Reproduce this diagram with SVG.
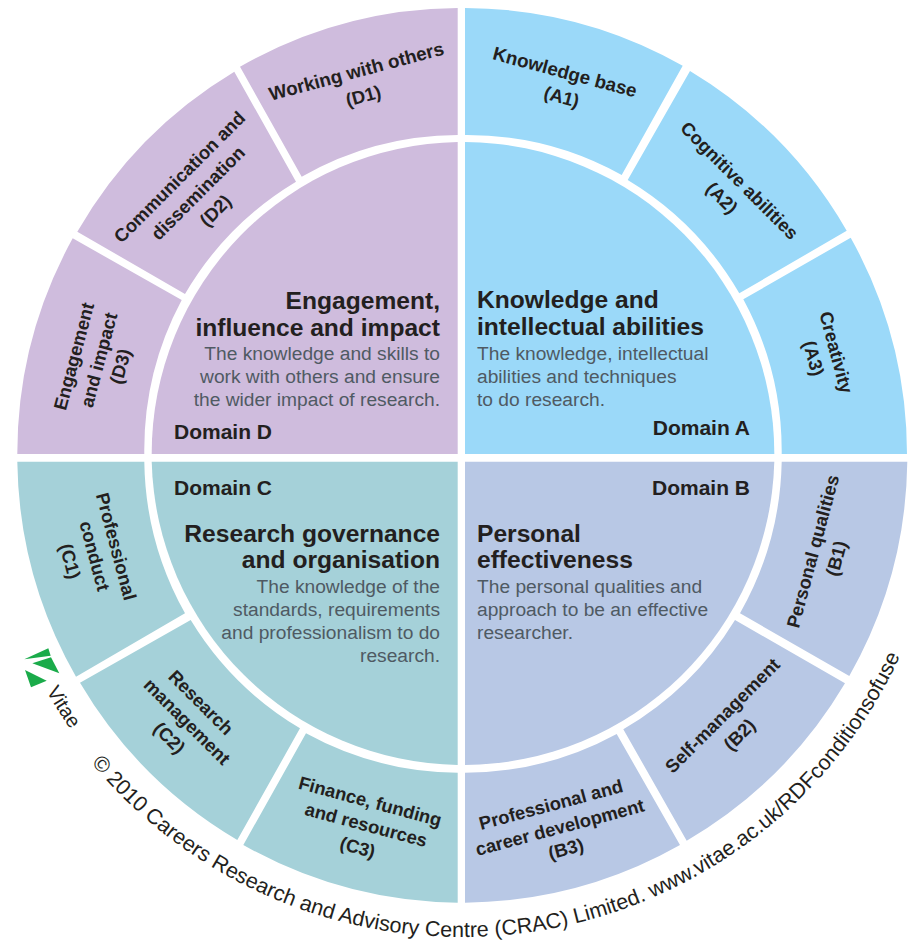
<svg xmlns="http://www.w3.org/2000/svg" width="912" height="943" viewBox="0 0 912 943">
<style>
text{font-family:"Liberation Sans",Arial,sans-serif}
.l{font-size:18.4px;font-weight:700;fill:#231f20;text-anchor:middle}
.x{font-size:18.8px}
.t{font-size:24.6px;font-weight:700;fill:#231f20}
.d{font-size:19.2px;fill:#4f5a63}
.m{font-size:21px;font-weight:700;fill:#231f20}
.e{text-anchor:end}
.ca{fill:#9bd9f9}.cb{fill:#b8c8e5}.cc{fill:#a5d1d9}.cd{fill:#cfbcdd}
.c{font-size:21.5px;fill:#231f20}
.g{fill:#1aab4a}
</style>
<defs>
<path id="arc" d="M91.2 762.9A482 482 0 0 0 914.9 619.9"/>
<path id="arc2" d="M46.4 691.1A478 478 0 0 0 124 793"/>
</defs>
<rect width="912" height="943" fill="#fff"/>

<g id="domain-a">
<path class="ca" d="M465 142A311.5 311.5 0 0 1 774.3 454H465Z"/>
<text class="t" x="477" y="308">Knowledge and</text>
<text class="t" x="477" y="335">intellectual abilities</text>
<text class="d" x="477" y="359.5">The knowledge, intellectual</text>
<text class="d" x="477" y="382.5">abilities and techniques</text>
<text class="d" x="477" y="405.5">to do research.</text>
<text class="m e" x="750" y="435">Domain A</text>
</g>
<g id="a1">
<path class="ca" d="M465 8A446 446 0 0 1 682.7 65.7L621.7 175A319 319 0 0 0 465 135Z"/>
<text class="l x" transform="translate(563.3 78.3) rotate(15)">Knowledge base</text>
<text class="l" transform="translate(560 103) rotate(15)">(A1)</text>
</g>
<g id="a2">
<path class="ca" d="M690 71A446 446 0 0 1 846.7 230.7L739.3 293.3A319 319 0 0 0 627.7 180Z"/>
<text class="l" transform="translate(735 185) rotate(45)">Cognitive abilities</text>
<text class="l" transform="translate(717.5 202.5) rotate(45)">(A2)</text>
</g>
<g id="a3">
<path class="ca" d="M850.7 237.7A446 446 0 0 1 907 454H781.7A319 319 0 0 0 743.3 299.3Z"/>
<text class="l" transform="translate(830 354) rotate(75)">Creativity</text>
<text class="l" transform="translate(807.5 360) rotate(75)">(A3)</text>
</g>

<g id="domain-b">
<path class="cb" d="M465 461.7H774.3A311.5 311.5 0 0 1 465 765Z"/>
<text class="t" x="477" y="541.7">Personal</text>
<text class="t" x="477" y="568.3">effectiveness</text>
<text class="d" x="477" y="592.7">The personal qualities and</text>
<text class="d" x="477" y="616">approach to be an effective</text>
<text class="d" x="477" y="639">researcher.</text>
<text class="m e" x="750" y="495">Domain B</text>
</g>
<g id="b1">
<path class="cb" d="M781.7 461.7H907.3A446 446 0 0 1 849.3 676L740 613.3A319 319 0 0 0 781.7 461.7Z"/>
<text class="l" transform="translate(819 553) rotate(-75)">Personal qualities</text>
<text class="l" transform="translate(842.5 560) rotate(-75)">(B1)</text>
</g>
<g id="b2">
<path class="cb" d="M735 620L845 683.3A446 446 0 0 1 686.7 840.7L623.3 729.3A319 319 0 0 0 735 620Z"/>
<text class="l" transform="translate(727 720) rotate(-45)">Self-management</text>
<text class="l" transform="translate(744 739) rotate(-45)">(B2)</text>
</g>
<g id="b3">
<path class="cb" d="M616.7 734L680 845A446 446 0 0 1 465 902.7V772.7A319 319 0 0 0 616.7 734Z"/>
<text class="l" transform="translate(552.6 810.8) rotate(-15)">Professional and</text>
<text class="l" transform="translate(561.5 833.5) rotate(-15)">career development</text>
<text class="l" transform="translate(567.6 855) rotate(-15)">(B3)</text>
</g>

<g id="domain-c">
<path class="cc" d="M457.7 461.7H151.7A311.5 311.5 0 0 0 457.7 765Z"/>
<text class="t e" x="440" y="541.7">Research governance</text>
<text class="t e" x="440" y="568.3">and organisation</text>
<text class="d e" x="440" y="592.7">The knowledge of the</text>
<text class="d e" x="440" y="616">standards, requirements</text>
<text class="d e" x="440" y="639">and professionalism to do</text>
<text class="d e" x="440" y="662">research.</text>
<text class="m" x="174" y="495">Domain C</text>
</g>
<g id="c1">
<path class="cc" d="M144.3 461.7H17.3A446 446 0 0 0 76 676.7L185 613.3A319 319 0 0 1 144.3 461.7Z"/>
<text class="l" transform="translate(110 548) rotate(75)">Professional</text>
<text class="l" transform="translate(88.5 557.5) rotate(75)">conduct</text>
<text class="l" transform="translate(64 563) rotate(75)">(C1)</text>
</g>
<g id="c2">
<path class="cc" d="M190.7 620L80 682.7A446 446 0 0 0 237.3 840L300 728.3A319 319 0 0 1 190.7 620Z"/>
<text class="l" transform="translate(196.5 707) rotate(45)">Research</text>
<text class="l" transform="translate(182.5 726) rotate(45)">management</text>
<text class="l" transform="translate(165 742.5) rotate(45)">(C2)</text>
</g>
<g id="c3">
<path class="cc" d="M306 733.3L243.3 845A446 446 0 0 0 457.7 902.7V772.7A319 319 0 0 1 306 733.3Z"/>
<text class="l" transform="translate(368.5 807.5) rotate(15)">Finance, funding</text>
<text class="l" transform="translate(364.5 831) rotate(15)">and resources</text>
<text class="l" transform="translate(356 853.5) rotate(15)">(C3)</text>
</g>

<g id="domain-d">
<path class="cd" d="M457.7 142A311.5 311.5 0 0 0 151.7 454H457.7Z"/>
<text class="t e" x="440" y="309">Engagement,</text>
<text class="t e" x="440" y="336">influence and impact</text>
<text class="d e" x="440" y="359.5">The knowledge and skills to</text>
<text class="d e" x="440" y="382.5">work with others and ensure</text>
<text class="d e" x="440" y="405.5">the wider impact of research.</text>
<text class="m" x="174" y="439">Domain D</text>
</g>
<g id="d1">
<path class="cd" d="M457.7 8A446 446 0 0 0 240 66.7L301.7 176.7A319 319 0 0 1 457.7 135Z"/>
<text class="l x" transform="translate(358 77.5) rotate(-15)">Working with others</text>
<text class="l" transform="translate(365 102) rotate(-15)">(D1)</text>
</g>
<g id="d2">
<path class="cd" d="M234.3 71.7A446 446 0 0 0 77.3 231.7L185 294A319 319 0 0 1 296 181.7Z"/>
<text class="l" transform="translate(184 181.5) rotate(-45)">Communication and</text>
<text class="l" transform="translate(202.5 197.5) rotate(-45)">dissemination</text>
<text class="l" transform="translate(220 215) rotate(-45)">(D2)</text>
</g>
<g id="d3">
<path class="cd" d="M72.7 238.3A446 446 0 0 0 17.3 454H144.3A319 319 0 0 1 181.7 300Z"/>
<text class="l" transform="translate(80 358) rotate(-75)">Engagement</text>
<text class="l" transform="translate(105 361.5) rotate(-75)">and impact</text>
<text class="l" transform="translate(126.5 368) rotate(-75)">(D3)</text>
</g>

<g id="footer">
<polygon class="g" points="24.3,659.3 48.3,648.3 50.7,655.7"/>
<polygon class="g" points="32.3,663.3 51,657.3 59.3,673.3"/>
<polygon class="g" points="25,670 46.7,680.7 31,687.3"/>
<text class="c" style="font-size:20px"><textPath href="#arc2">Vitae</textPath></text>
<text class="c"><textPath href="#arc">© 2010 Careers Research and Advisory Centre (CRAC) Limited. www.vitae.ac.uk/RDFconditionsofuse</textPath></text>
</g>
</svg>
